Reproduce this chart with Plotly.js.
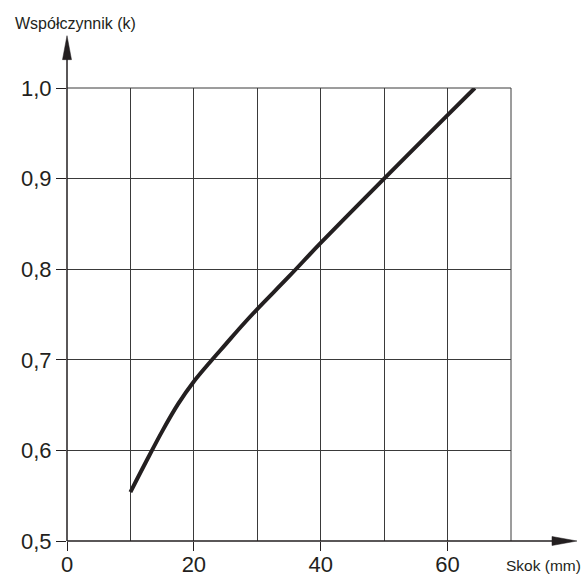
<!DOCTYPE html>
<html>
<head>
<meta charset="utf-8">
<script src="https://cdn.plot.ly/plotly-3.0.1.min.js"></script>
<style>html,body{margin:0;padding:0;background:#fff;}#chart{width:587px;height:578px;}</style>
</head>
<body>
<div id="chart"></div>
<script>
// Data
var strokeMm = [10, 12.5, 15, 17.5, 20, 22.5, 25, 27.5, 30, 35, 40, 50, 60, 64.3];
var coefK    = [0.554, 0.588, 0.621, 0.651, 0.676, 0.697, 0.717, 0.737, 0.756, 0.792, 0.829, 0.900, 0.970, 1.0];
var xTickVals = [0, 20, 40, 60];
var xTickText = ['0', '20', '40', '60'];
var yTickVals = [0.5, 0.6, 0.7, 0.8, 0.9, 1.0];
var yTickText = ['0,5', '0,6', '0,7', '0,8', '0,9', '1,0'];

var ink = '#231f20';
var gridCol = '#3a3a3a';
var font = 'Liberation Sans, Arial, sans-serif';

var trace = {
  x: strokeMm, y: coefK, type: 'scatter', mode: 'lines',
  line: {color: ink, width: 4, shape: 'spline', smoothing: 1.0},
  hoverinfo: 'skip', cliponaxis: false
};

var layout = {
  width: 587, height: 578,
  margin: {l: 67, r: 76, t: 88, b: 37, pad: 0},
  paper_bgcolor: '#fff', plot_bgcolor: '#fff',
  showlegend: false,
  font: {family: font, color: ink},
  xaxis: {
    range: [0, 70], autorange: false,
    tickmode: 'array', tickvals: xTickVals, ticktext: xTickText,
    ticks: 'outside', ticklen: 9, tickwidth: 1, tickcolor: ink,
    tickfont: {size: 22, family: font, color: ink},
    ticklabelstandoff: -5,
    showgrid: true, gridcolor: gridCol, gridwidth: 1,
    minor: {dtick: 10, tick0: 0, showgrid: true, gridcolor: gridCol, gridwidth: 1, ticks: ''},
    showline: false,
    zeroline: false, automargin: false, fixedrange: true
  },
  yaxis: {
    range: [0.5, 1.0], autorange: false,
    tickmode: 'array', tickvals: yTickVals, ticktext: yTickText,
    ticks: 'outside', ticklen: 10, tickwidth: 1, tickcolor: ink,
    tickfont: {size: 22, family: font, color: ink},
    showgrid: true, gridcolor: gridCol, gridwidth: 1,
    showline: false,
    zeroline: false, automargin: false, fixedrange: true
  },
  shapes: [
    // top border at 1.0 and right border at 70
    {type: 'line', xref: 'paper', yref: 'paper', x0: 0, x1: 1, y0: 1, y1: 1, line: {color: gridCol, width: 1}},
    {type: 'line', xref: 'paper', yref: 'paper', x0: 1, x1: 1, y0: 0, y1: 1, line: {color: gridCol, width: 1}},
    // y-axis with arrow
    {type: 'line', xref: 'paper', yref: 'paper', x0: 0, x1: 0, y0: 0, y1: 1.07, line: {color: ink, width: 1.5}},
    {type: 'path', xref: 'paper', yref: 'paper',
     path: 'M-0.0101,1.0626 L0,1.1155 L0.0101,1.0626 Z', fillcolor: ink, line: {color: ink, width: 0.5}},
    // x-axis with arrow
    {type: 'line', xref: 'paper', yref: 'paper', x0: 0, x1: 1.1, y0: 0, y1: 0, line: {color: ink, width: 1.5}},
    {type: 'path', xref: 'paper', yref: 'paper',
     path: 'M1.0923,-0.0099 L1.1486,0 L1.0923,0.0099 Z', fillcolor: ink, line: {color: ink, width: 0.5}}
  ],
  annotations: [
    {text: 'Współczynnik (k)', xref: 'paper', yref: 'paper', x: -0.122, y: 1.12,
     xanchor: 'left', yanchor: 'bottom', showarrow: false,
     font: {size: 16, family: font, color: ink}},
    {text: 'Skok (mm)', xref: 'paper', yref: 'paper', x: 1.162, y: -0.032,
     xanchor: 'right', yanchor: 'top', showarrow: false,
     font: {size: 15.5, family: font, color: ink}}
  ]
};

Plotly.newPlot('chart', [trace], layout, {staticPlot: true, displayModeBar: false});
</script>
</body>
</html>
